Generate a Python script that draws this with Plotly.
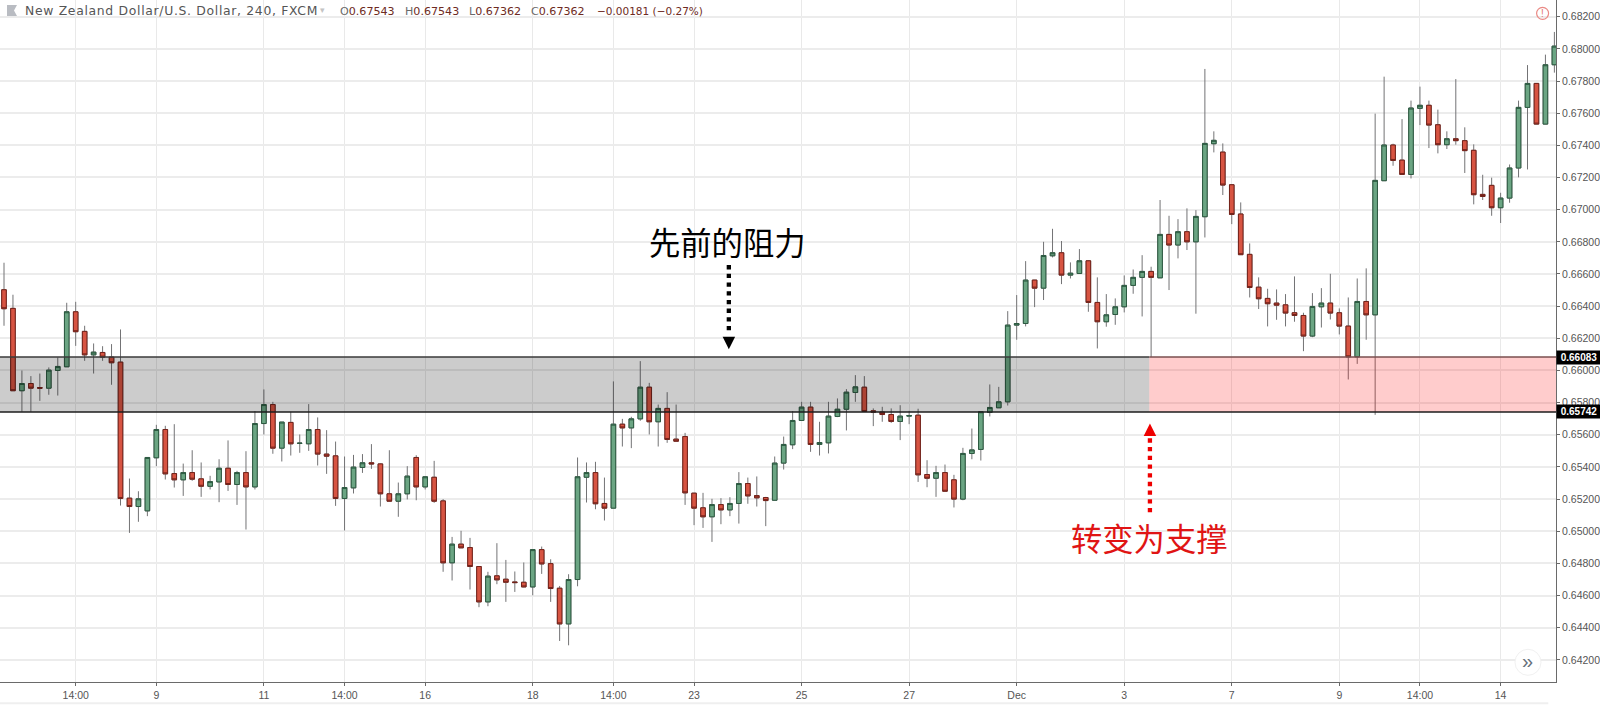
import plotly.graph_objects as go

open_ = [
 .66502,.66386,.65874,.65919,.65894,.65890,.66000,.66023,.66365,.66243,
 .66097,.66112,.66083,.66052,.65206,.65154,.65127,.65457,.65633,.65359,
 .65320,.65365,.65326,.65280,.65307,.65392,.65291,.65365,.65276,.65670,
 .65788,.65517,.65677,.65546,.65544,.65633,.65480,.65469,.65204,.65270,
 .65397,.65426,.65419,.65233,.65187,.65233,.65459,.65276,.65336,.65189,
 .64804,.64920,.64899,.64781,.64561,.64723,.64702,.64685,.64683,.64654,
 .64886,.64799,.64646,.64424,.64700,.65336,.65365,.65173,.65144,.65666,
 .65643,.65699,.65896,.65681,.65764,.65573,.65589,.65237,.65146,.65090,
 .65166,.65133,.65173,.65297,.65222,.65210,.65193,.65424,.65538,.65689,
 .65772,.65540,.65550,.65714,.65759,.65863,.65896,.65749,.65741,.65726,
 .65683,.65716,.65722,.65353,.65330,.65365,.65320,.65200,.65484,.65509,
 .65739,.65768,.65805,.66282,.66292,.66562,.66512,.66713,.66732,.66593,
 .66603,.66682,.66423,.66303,.66348,.66396,.66529,.66579,.66616,.66576,
 .66846,.66780,.66863,.66800,.66956,.67410,.67358,.67155,.66973,.66722,
 .66518,.66448,.66419,.66408,.66359,.66342,.66214,.66396,.66419,.66359,
 .66276,.66085,.66429,.66346,.67180,.67402,.67308,.67219,.67630,.67649,
 .67528,.67404,.67441,.67429,.67369,.67095,.67151,.67012,.67072,.67259,
 .67636,.67785,.67532,.67901]
high = [
 .66670,.66471,.66000,.65965,.65981,.66019,.66081,.66421,.66427,.66278,
 .66168,.66151,.66164,.66255,.65328,.65249,.65459,.65662,.65656,.65666,
 .65421,.65504,.65428,.65345,.65448,.65565,.65376,.65498,.65747,.65882,
 .65805,.65679,.65743,.65602,.65791,.65708,.65629,.65558,.65465,.65475,
 .65480,.65542,.65421,.65504,.65303,.65405,.65473,.65343,.65438,.65200,
 .64965,.65003,.64959,.64783,.64748,.64926,.64822,.64750,.64806,.64886,
 .64905,.64826,.64660,.64733,.65459,.65428,.65432,.65334,.65932,.65699,
 .65712,.66058,.65923,.65788,.65865,.65788,.65612,.65239,.65239,.65202,
 .65206,.65212,.65368,.65334,.65341,.65214,.65465,.65589,.65747,.65805,
 .65805,.65681,.65805,.65826,.65884,.65971,.65965,.65764,.65774,.65764,
 .65784,.65749,.65762,.65442,.65407,.65415,.65351,.65519,.65639,.65743,
 .65913,.65898,.66369,.66469,.66680,.66562,.66800,.66881,.66805,.66672,
 .66755,.66686,.66579,.66475,.66448,.66591,.66628,.66717,.66645,.67060,
 .66962,.66941,.67008,.66997,.67875,.67487,.67412,.67157,.67045,.66790,
 .66579,.66508,.66504,.66475,.66585,.66359,.66481,.66512,.66601,.66386,
 .66454,.66572,.66635,.67597,.67827,.67410,.67563,.67678,.67765,.67678,
 .67622,.67487,.67812,.67512,.67406,.67217,.67199,.67105,.67281,.67678,
 .67899,.67787,.67964,.68105]
low = [
 .66278,.65874,.65743,.65743,.65811,.65849,.65844,.66023,.66153,.66060,
 .65981,.66060,.65911,.65160,.64990,.65059,.65094,.65405,.65322,.65272,
 .65220,.65314,.65214,.65260,.65181,.65251,.65164,.65011,.65260,.65602,
 .65482,.65434,.65471,.65488,.65500,.65409,.65357,.65158,.65005,.65235,
 .65363,.65388,.65154,.65187,.65090,.65198,.65193,.65260,.65177,.64748,
 .64694,.64897,.64638,.64528,.64534,.64671,.64561,.64623,.64652,.64602,
 .64735,.64561,.64318,.64291,.64658,.65179,.65137,.65067,.65144,.65527,
 .65517,.65687,.65602,.65527,.65550,.65560,.65164,.65038,.65021,.64934,
 .65044,.65094,.65048,.65171,.65154,.65032,.65191,.65384,.65511,.65689,
 .65494,.65471,.65484,.65710,.65627,.65805,.65745,.65654,.65681,.65674,
 .65567,.65666,.65307,.65274,.65214,.65249,.65148,.65193,.65448,.65440,
 .65714,.65768,.65782,.66191,.66274,.66394,.66438,.66703,.66537,.66572,
 .66603,.66365,.66137,.66272,.66284,.66361,.66477,.66336,.66083,.66576,
 .66500,.66697,.66749,.66353,.66827,.67356,.67091,.66910,.66720,.66454,
 .66382,.66274,.66315,.66274,.66303,.66120,.66207,.66267,.66317,.66224,
 .65944,.66041,.66191,.65724,.67180,.67273,.67219,.67194,.67526,.67383,
 .67350,.67377,.67404,.67228,.67033,.67060,.66962,.66917,.67043,.67201,
 .67250,.67532,.67532,.67852]
close = [
 .66384,.65874,.65919,.65890,.65890,.66002,.66025,.66365,.66241,.66097,
 .66114,.66083,.66048,.65204,.65154,.65202,.65459,.65633,.65357,.65320,
 .65365,.65324,.65280,.65309,.65392,.65291,.65365,.65276,.65670,.65788,
 .65517,.65679,.65544,.65548,.65633,.65480,.65467,.65204,.65272,.65399,
 .65426,.65419,.65233,.65187,.65233,.65343,.65276,.65339,.65187,.64804,
 .64920,.64897,.64781,.64561,.64721,.64698,.64683,.64681,.64654,.64886,
 .64797,.64644,.64424,.64700,.65339,.65365,.65171,.65144,.65666,.65643,
 .65699,.65896,.65681,.65764,.65571,.65560,.65239,.65144,.65090,.65166,
 .65133,.65173,.65297,.65220,.65208,.65191,.65424,.65540,.65689,.65772,
 .65540,.65552,.65716,.65759,.65865,.65898,.65745,.65741,.65726,.65683,
 .65716,.65720,.65351,.65330,.65365,.65249,.65200,.65484,.65506,.65743,
 .65770,.65805,.66282,.66292,.66562,.66512,.66715,.66732,.66593,.66605,
 .66682,.66423,.66303,.66346,.66396,.66529,.66579,.66616,.66579,.66846,
 .66780,.66863,.66800,.66958,.67412,.67431,.67153,.66970,.66720,.66516,
 .66446,.66415,.66406,.66357,.66342,.66214,.66398,.66419,.66357,.66276,
 .66085,.66429,.66346,.67182,.67402,.67306,.67219,.67632,.67649,.67526,
 .67404,.67441,.67429,.67367,.67093,.67082,.67012,.67072,.67259,.67636,
 .67785,.67532,.67901,.68017]

tick_index = [8, 17, 29, 38, 47, 59, 68, 77, 89, 101, 113, 125, 137, 149, 158, 167]
tick_labels = ["14:00", "9", "11", "14:00", "16", "18", "14:00", "23", "25", "27",
               "Dec", "3", "7", "9", "14:00", "14"]
price_ticks = [round(0.642 + 0.002 * i, 3) for i in range(21)]
band_top = 0.66083
band_bottom = 0.65742

W, H = 1600, 705
PW, PH = 1555.7, 681.7
x_range = [-0.446, 173.18]
y_range = [0.640628, 0.683037]
band_split = 127.8

def px(x):
    return x / PW
def py(y):
    return 1 - y / PH

x_index = list(range(len(close)))
body_high = [max(a, b) for a, b in zip(open_, close)]
body_low = [min(a, b) for a, b in zip(open_, close)]

UP_FILL, DOWN_FILL = "#6BA583", "#D75442"
UP_EDGE, DOWN_EDGE = "#2c5a41", "#74221a"
WICK = "#737375"

fig = go.Figure()
fig.add_trace(go.Candlestick(
    x=x_index, open=open_, high=high, low=low, close=close, whiskerwidth=0,
    increasing=dict(fillcolor=UP_FILL, line=dict(color=WICK, width=1)),
    decreasing=dict(fillcolor=DOWN_FILL, line=dict(color=WICK, width=1)),
    hoverinfo="skip", showlegend=False))
fig.add_trace(go.Candlestick(
    x=x_index, open=open_, high=body_high, low=body_low, close=close, whiskerwidth=0,
    increasing=dict(fillcolor=UP_FILL, line=dict(color=UP_EDGE, width=1)),
    decreasing=dict(fillcolor=DOWN_FILL, line=dict(color=DOWN_EDGE, width=1)),
    hoverinfo="skip", showlegend=False))

shapes = [
    dict(type="rect", xref="x", yref="y", x0=x_range[0], x1=band_split, y0=band_bottom, y1=band_top,
         fillcolor="rgba(0,0,0,0.2)", line_width=0, layer="above"),
    dict(type="rect", xref="x", yref="y", x0=band_split, x1=x_range[1], y0=band_bottom, y1=band_top,
         fillcolor="rgba(255,0,0,0.2)", line_width=0, layer="above"),
    dict(type="line", xref="x", yref="y", x0=x_range[0], x1=band_split, y0=band_top, y1=band_top,
         line=dict(color="#3a3a3a", width=1.5), layer="above"),
    dict(type="line", xref="x", yref="y", x0=band_split, x1=x_range[1], y0=band_top, y1=band_top,
         line=dict(color="#7a4f4f", width=1.5), layer="above"),
    dict(type="line", xref="x", yref="y", x0=x_range[0], x1=x_range[1], y0=band_bottom, y1=band_bottom,
         line=dict(color="#1c1c1c", width=1.5), layer="above"),
    # dotted black arrow
    dict(type="line", xref="paper", yref="paper", x0=px(728.7), x1=px(728.7), y0=py(265), y1=py(334),
         line=dict(color="#000000", width=4.3, dash="4.3px,4.4px"), layer="above"),
    dict(type="path", xref="paper", yref="paper",
         path=f"M {px(722.5)} {py(336.5)} L {px(735)} {py(336.5)} L {px(728.7)} {py(349)} Z",
         fillcolor="#000000", line_width=0, layer="above"),
    # dotted red arrow
    dict(type="line", xref="paper", yref="paper", x0=px(1149.7), x1=px(1149.7), y0=py(512), y1=py(437),
         line=dict(color="#ee0000", width=4.3, dash="4.3px,4.4px"), layer="above"),
    dict(type="path", xref="paper", yref="paper",
         path=f"M {px(1143.5)} {py(435.7)} L {px(1156)} {py(435.7)} L {px(1149.7)} {py(423.3)} Z",
         fillcolor="#ee0000", line_width=0, layer="above"),
    # alert icon
    dict(type="circle", xref="paper", yref="paper", x0=px(1536.3), x1=px(1548.3), y0=py(19.3), y1=py(7.3),
         line=dict(color="#ea8a85", width=1.2), fillcolor="rgba(255,255,255,0)", layer="above"),
    # scroll button
    dict(type="circle", xref="paper", yref="paper", x0=px(1514.7), x1=px(1540.7), y0=py(675), y1=py(649),
         line=dict(color="#f1f1f1", width=1), fillcolor="#ffffff", layer="above"),
    # header flag
    dict(type="path", xref="paper", yref="paper",
         path=f"M {px(7)} {py(5)} L {px(17)} {py(5)} L {px(14)} {py(10.5)} L {px(17)} {py(16)} L {px(7)} {py(16)} Z",
         fillcolor="#b9bcc2", line_width=0, layer="above"),
    # footer rule
    dict(type="line", xref="paper", yref="paper", x0=0, x1=px(1548), y0=py(703), y1=py(703),
         line=dict(color="#efefef", width=2), layer="above"),
]

HFONT = "DejaVu Sans"
def txt(x, y, text, color, size, family=HFONT, anchor="left"):
    return dict(xref="paper", yref="paper", x=px(x), y=py(y), text=text, showarrow=False,
                xanchor=anchor, yanchor="middle", font=dict(family=family, size=size, color=color))

VAL = "#6e2a22"
LAB = "#6a6a6a"
annotations = [
    txt(23, 10.5, '<span style="letter-spacing:0.68px">New Zealand Dollar/U.S. Dollar, 240, FXCM</span>', "#555555", 12.4),
    txt(318, 10, "▾", "#c4c4c4", 9),
    txt(338, 11, f'<span style="color:{LAB}">O</span>0.67543', VAL, 11.1),
    txt(403, 11, f'<span style="color:{LAB}">H</span>0.67543', VAL, 11.1),
    txt(467, 11, f'<span style="color:{LAB}">L</span>0.67362', VAL, 11.1),
    txt(529, 11, f'<span style="color:{LAB}">C</span>0.67362', VAL, 11.1),
    txt(595, 11, "−0.00181 (−0.27%)", VAL, 10.5),
    txt(727.5, 241, "先前的阻力", "#000000", 31.3, "Noto Sans CJK SC", "center"),
    txt(1149.7, 537, "转变为支撑", "#e01414", 31.3, "Noto Sans CJK SC", "center"),
    txt(1542.3, 13.3, "!", "#e4736d", 10, "Liberation Sans", "center"),
    txt(1527.7, 660.5, "»", "#66707a", 20, "Liberation Sans", "center"),
]
for v, t in ((band_top, "0.66083"), (band_bottom, "0.65742")):
    annotations.append(dict(xref="paper", yref="y", x=1, y=v, text=f"<b>{t}</b>", showarrow=False,
                            xanchor="left", yanchor="middle", width=44, height=13, align="center",
                            bgcolor="#000000", borderpad=0,
                            font=dict(family="Liberation Sans", size=10, color="#ffffff")))

fig.update_layout(
    width=W, height=H,
    margin=dict(l=0, r=W - PW, t=0, b=H - PH),
    paper_bgcolor="#ffffff", plot_bgcolor="#ffffff",
    showlegend=False, hovermode=False, boxgap=0.27,
    shapes=shapes, annotations=annotations,
    xaxis=dict(type="linear", range=x_range, rangeslider=dict(visible=False),
               tickmode="array", tickvals=tick_index, ticktext=tick_labels,
               showgrid=True, gridcolor="#e9e9e9", gridwidth=1.2, zeroline=False,
               showline=True, linecolor="#6a6a6a", linewidth=1,
               ticks="outside", ticklen=3, tickcolor="#6a6a6a",
               tickfont=dict(family="Liberation Sans", size=10.5, color="#555555")),
    yaxis=dict(side="right", range=y_range, tickmode="array", tickvals=price_ticks,
               ticktext=[f"{v:.5f}" for v in price_ticks],
               showgrid=True, gridcolor="#ececec", gridwidth=1.5, zeroline=False,
               showline=True, linecolor="#6a6a6a", linewidth=1,
               ticks="outside", ticklen=3, tickcolor="#6a6a6a",
               tickfont=dict(family="Liberation Sans", size=10.5, color="#555555")),
)

fig.write_html("out.html", config=dict(displayModeBar=False),
               post_script="document.body.style.margin='0';")
